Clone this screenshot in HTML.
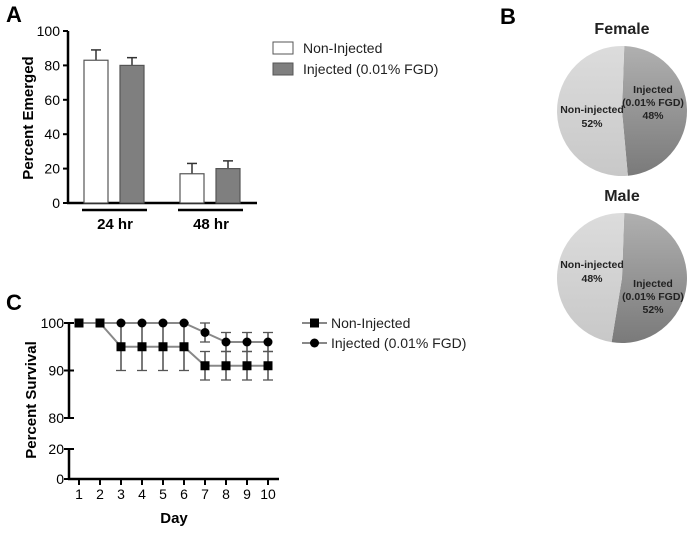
<!DOCTYPE html>
<html><head><meta charset="utf-8"><style>
body{margin:0;background:#fff}
svg text{font-family:"Liberation Sans",Arial,sans-serif}
</style></head><body>
<svg width="700" height="533" viewBox="0 0 700 533" xmlns="http://www.w3.org/2000/svg">
<defs>
<linearGradient id="injG" x1="0" y1="0" x2="0" y2="1"><stop offset="0" stop-color="#b0b0b0"/><stop offset="1" stop-color="#7a7a7a"/></linearGradient>
<linearGradient id="nonG" x1="0" y1="0" x2="0" y2="1"><stop offset="0" stop-color="#dcdcdc"/><stop offset="1" stop-color="#c8c8c8"/></linearGradient>
</defs>
<text x="6" y="22" font-size="22" font-weight="bold">A</text>
<text x="500" y="24" font-size="22" font-weight="bold">B</text>
<text x="6" y="310" font-size="22" font-weight="bold">C</text>
<g id="barA"></g>
<g id="pies"></g>
<g id="lineC"></g>
</svg>
<script>
const NS="http://www.w3.org/2000/svg";
function mk(p,t,a,txt){const e=document.createElementNS(NS,t);for(const k in a)e.setAttribute(k,a[k]);if(txt!==undefined)e.textContent=txt;p.appendChild(e);return e;}

// ---- Panel A data ----
const groups=["24 hr","48 hr"];
const nonInjMean=[83,17];
const nonInjErr=[6,6];
const injMean=[80,20];
const injErr=[4.5,4.5];
const aTicks=[0,20,40,60,80,100];

// ---- Panel B data ----
const pieTitles=["Female","Male"];
const pieNonInj=[52,48];
const pieInj=[48,52];

// ---- Panel C data ----
const days=[1,2,3,4,5,6,7,8,9,10];
const survNon=[100,100,95,95,95,95,91,91,91,91];
const errNon=[0,0,5,5,5,5,3,3,3,3];
const survInj=[100,100,100,100,100,100,98,96,96,96];
const errInj=[0,0,0,0,0,0,2,2,2,2];
const cTicksTop=[80,90,100];
const cTicksBot=[0,20];

// ===== Panel A =====
(function(){
const g=document.getElementById('barA');
const y=v=>203-v*1.72;
const gx=[84,180];
mk(g,'line',{x1:68,y1:31,x2:68,y2:204,stroke:'#000','stroke-width':2.5});
mk(g,'line',{x1:67,y1:203,x2:257,y2:203,stroke:'#000','stroke-width':2.5});
aTicks.forEach(t=>{
 const tk=mk(g,'line',{x1:63,y1:y(t),x2:68,y2:y(t),stroke:'#000','stroke-width':2});
 
 const l=mk(g,'text',{x:60,y:y(t)+5,'font-size':14,'text-anchor':'end'},t);
 
});
const yt=mk(g,'text',{x:0,y:0,'font-size':15,'font-weight':'bold','text-anchor':'middle',transform:'translate(33,118) rotate(-90)'},'Percent Emerged');

groups.forEach((gn,i)=>{
 const x0=gx[i];
 [[nonInjMean,nonInjErr,'#fff',0],[injMean,injErr,'#7f7f7f',36]].forEach(([m,e,f,off])=>{
  const bx=x0+off;
  const eb=mk(g,'line',{x1:bx+12,y1:y(m[i]),x2:bx+12,y2:y(m[i]+e[i]),stroke:'#333','stroke-width':1.5});
  
  mk(g,'line',{x1:bx+7,y1:y(m[i]+e[i]),x2:bx+17,y2:y(m[i]+e[i]),stroke:'#333','stroke-width':1.5});
  const r=mk(g,'rect',{x:bx,y:y(m[i]),width:24,height:203-y(m[i]),fill:f,stroke:'#555','stroke-width':1.2});
  
 });
 const ul=mk(g,'line',{x1:x0-2,y1:210,x2:x0+63,y2:210,stroke:'#000','stroke-width':2.5});
 
 const gl=mk(g,'text',{x:x0+31,y:229,'font-size':15,'font-weight':'bold','text-anchor':'middle'},gn);
 
});
const le=[['Non-Injected','#fff',42],['Injected (0.01% FGD)','#7f7f7f',63]];
le.forEach(([t,f,yy])=>{
 const b=mk(g,'rect',{x:273,y:yy,width:20,height:12,fill:f,stroke:'#555','stroke-width':1});
 
 const l=mk(g,'text',{x:303,y:yy+11,'font-size':14,fill:'#222'},t);
 
});
})();

// ===== Panel B =====
(function(){
const g=document.getElementById('pies');
const cx=622, cys=[111,278], r=65;
pieTitles.forEach((t,i)=>{
 const cy=cys[i];
 const tt=mk(g,'text',{x:cx,y:cy-77,'font-size':16,'font-weight':'bold','text-anchor':'middle',fill:'#222'},t);
 
 const start=-88*Math.PI/180;
 const frac=pieInj[i]/(pieInj[i]+pieNonInj[i]);
 const end=start+frac*2*Math.PI;
 const p=(a)=>[cx+r*Math.cos(a),cy+r*Math.sin(a)];
 const [sx,sy]=p(start),[ex,ey]=p(end);
 const large=frac>0.5?1:0;
 const s1=mk(g,'path',{d:`M${cx},${cy} L${sx},${sy} A${r},${r} 0 ${large} 1 ${ex},${ey} Z`,fill:'url(#injG)'});
 
 const s2=mk(g,'path',{d:`M${cx},${cy} L${ex},${ey} A${r},${r} 0 ${1-large} 1 ${sx},${sy} Z`,fill:'url(#nonG)'});
 
 const iy=i===0?cy-18:cy+9, ny=i===0?cy+2:cy-10;
 [['Injected',0],['(0.01% FGD)',13],[pieInj[i]+'%',26]].forEach(([s,dy])=>{
  const l=mk(g,'text',{x:653,y:iy+dy,'font-size':10.5,'font-weight':'bold','text-anchor':'middle',fill:'#222'},s);
  
 });
 [['Non-injected',0],[pieNonInj[i]+'%',14]].forEach(([s,dy])=>{
  const l=mk(g,'text',{x:592,y:ny+dy,'font-size':10.5,'font-weight':'bold','text-anchor':'middle',fill:'#222'},s);
  
 });
});
})();

// ===== Panel C =====
(function(){
const g=document.getElementById('lineC');
const x=d=>79+(d-1)*21;
const y=v=> v>=80 ? 418-(v-80)*4.75 : 479-v*1.5;
mk(g,'line',{x1:69,y1:322,x2:69,y2:418,stroke:'#000','stroke-width':2.5});
mk(g,'line',{x1:69,y1:449,x2:69,y2:480,stroke:'#000','stroke-width':2.5});
mk(g,'line',{x1:68,y1:479,x2:279,y2:479,stroke:'#000','stroke-width':2.5});
cTicksTop.concat(cTicksBot).forEach(t=>{
 const tk=mk(g,'line',{x1:64,y1:y(t),x2:74,y2:y(t),stroke:'#000','stroke-width':2});
 
 const l=mk(g,'text',{x:64,y:y(t)+5,'font-size':14,'text-anchor':'end'},t);
 
});
days.forEach(d=>{
 mk(g,'line',{x1:x(d),y1:479,x2:x(d),y2:485,stroke:'#000','stroke-width':2});
 const l=mk(g,'text',{x:x(d),y:499,'font-size':14,'text-anchor':'middle'},d);
 
});
const xt=mk(g,'text',{x:174,y:523,'font-size':15,'font-weight':'bold','text-anchor':'middle'},'Day');

const yt=mk(g,'text',{x:0,y:0,'font-size':15,'font-weight':'bold','text-anchor':'middle',transform:'translate(36,400) rotate(-90)'},'Percent Survival');

function series(vals,errs,shape,name){
 const pl=mk(g,'polyline',{points:days.map((d,i)=>x(d)+','+y(vals[i])).join(' '),fill:'none',stroke:'#888','stroke-width':2});
 
 days.forEach((d,i)=>{
  if(errs[i]>0){
   const e=mk(g,'line',{x1:x(d),y1:y(vals[i]-errs[i]),x2:x(d),y2:y(vals[i]+errs[i]),stroke:'#333','stroke-width':1.3});
   
   [vals[i]-errs[i],vals[i]+errs[i]].forEach(v=>mk(g,'line',{x1:x(d)-5,y1:y(v),x2:x(d)+5,y2:y(v),stroke:'#555','stroke-width':1.3}));
  }
  const m= shape==='sq'? mk(g,'rect',{x:x(d)-4.5,y:y(vals[i])-4.5,width:9,height:9,fill:'#000'}) : mk(g,'circle',{cx:x(d),cy:y(vals[i]),r:4.5,fill:'#000'});
  
 });
}
series(survNon,errNon,'sq','non-injected');
series(survInj,errInj,'ci','injected');
[['Non-Injected','sq',323],['Injected (0.01% FGD)','ci',343]].forEach(([t,s,yy])=>{
 mk(g,'line',{x1:302,y1:yy,x2:327,y2:yy,stroke:'#888','stroke-width':2});
 if(s==='sq') mk(g,'rect',{x:310,y:yy-4.5,width:9,height:9,fill:'#000'}); else mk(g,'circle',{cx:314.5,cy:yy,r:4.5,fill:'#000'});
 const l=mk(g,'text',{x:331,y:yy+5,'font-size':14,fill:'#222'},t);
 
});
})();
</script>
</body></html>
